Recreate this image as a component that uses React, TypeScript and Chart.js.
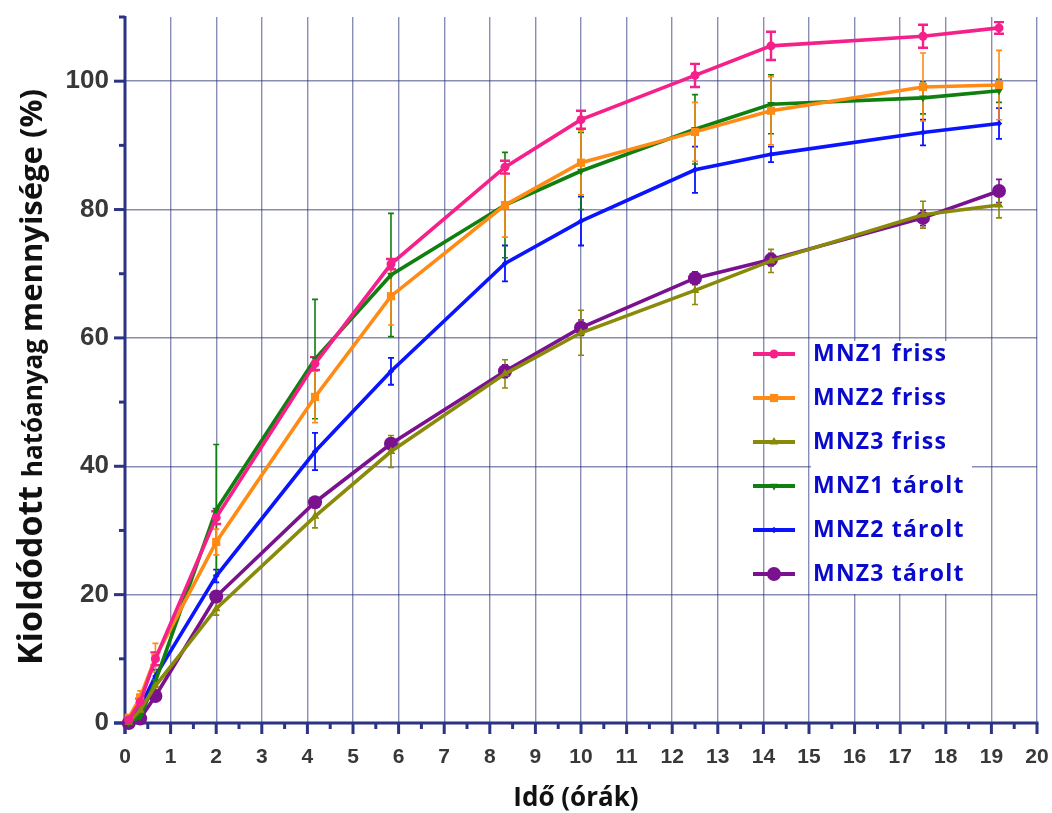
import React, { useEffect, useRef } from "react";
import { Chart, registerables } from "chart.js";
Chart.register(...registerables);

// ---- data ----
const times = [0.083, 0.333, 0.667, 2, 4.167, 5.833, 8.333, 10, 12.5, 14.167, 17.5, 19.167];

const seriesNames = ["MNZ1 friss", "MNZ2 friss", "MNZ3 friss", "MNZ1 tárolt", "MNZ2 tárolt", "MNZ3 tárolt"];

const mnz1Friss = [0.5, 3.3, 10.0, 32.0, 56.0, 71.5, 86.6, 94.0, 100.9, 105.5, 107.0, 108.3];
const mnz2Friss = [0.8, 4.0, 10.2, 28.2, 50.8, 66.5, 80.7, 87.3, 92.1, 95.4, 99.1, 99.4];
const mnz3Friss = [0.1, 2.0, 5.8, 17.8, 32.2, 42.3, 54.4, 60.8, 67.4, 72.0, 79.2, 80.7];
const mnz1Tarolt = [0.0, 1.0, 6.5, 33.2, 56.7, 69.8, 80.7, 86.0, 92.5, 96.4, 97.4, 98.5];
const mnz2Tarolt = [0.3, 2.5, 7.3, 22.9, 42.3, 54.8, 71.6, 78.2, 86.2, 88.6, 92.0, 93.4];
const mnz3Tarolt = [0.0, 0.7, 4.2, 19.7, 34.4, 43.5, 54.8, 61.6, 69.3, 72.2, 78.7, 82.9];

const errMnz1Friss = [0.3, 0.5, 1.0, 1.0, 1.0, 0.8, 1.0, 1.4, 1.8, 2.2, 1.8, 0.9];
const errMnz2Friss = [0.5, 1.0, 2.2, 2.0, 4.0, 4.5, 5.0, 5.0, 4.6, 5.3, 5.3, 5.4];
const errMnz3Friss = [0.2, 0.5, 0.8, 1.0, 1.8, 2.5, 2.2, 3.5, 2.2, 1.8, 2.1, 2.0];
const errMnz1Tarolt = [0.3, 1.0, 1.5, 10.2, 9.3, 9.6, 8.2, 6.0, 5.4, 4.6, 2.5, 1.8];
const errMnz2Tarolt = [0.3, 0.5, 1.0, 1.0, 2.9, 2.1, 2.8, 3.8, 3.6, 1.2, 2.0, 2.4];
const errMnz3Tarolt = [0.2, 0.3, 0.5, 0.8, 0.8, 0.8, 1.0, 1.2, 1.0, 1.0, 1.2, 1.8];

const xTitle = "Idő (órák)";
const yTitleParts = ["Kioldódott ", "hatóanyag ", "mennyisége (%)"];

// ---- styles ----
const W = 1052;
const H = 813;
const colors = ["#f5208a", "#ff8a14", "#8a8a0a", "#0f7f0f", "#0a14ff", "#7a118f"];
const pointStyles = ["circle", "rect", "triangle", "triangle", "rectRot", "circle"];
const pointRadii = [4.5, 5.8, 5, 4.5, 3.2, 7];
const pointRotations = [0, 0, 0, 180, 0, 0];
const errWidths = [2.4, 1.6, 1.6, 1.6, 1.8, 1.6];
const errCaps = [5, 3, 3, 3, 3, 3];
const AXIS = "#2b3384";
const GRID = "rgba(40,46,118,0.55)";

const values = [mnz1Friss, mnz2Friss, mnz3Friss, mnz1Tarolt, mnz2Tarolt, mnz3Tarolt];
const errors = [errMnz1Friss, errMnz2Friss, errMnz3Friss, errMnz1Tarolt, errMnz2Tarolt, errMnz3Tarolt];

function drawMarker(ctx: CanvasRenderingContext2D, style: string, rot: number, x: number, y: number, r: number) {
  ctx.beginPath();
  if (style === "circle") {
    ctx.arc(x, y, r, 0, Math.PI * 2);
  } else if (style === "rect") {
    const s = r * Math.SQRT1_2;
    ctx.rect(x - s, y - s, 2 * s, 2 * s);
  } else if (style === "rectRot") {
    ctx.moveTo(x, y - r);
    ctx.lineTo(x + r, y);
    ctx.lineTo(x, y + r);
    ctx.lineTo(x - r, y);
    ctx.closePath();
  } else if (style === "triangle") {
    const d = rot === 180 ? -1 : 1;
    ctx.moveTo(x, y - d * r);
    ctx.lineTo(x + r * 0.87, y + d * r * 0.5);
    ctx.lineTo(x - r * 0.87, y + d * r * 0.5);
    ctx.closePath();
  }
  ctx.fill();
}

export default function App() {
  const ref = useRef<HTMLCanvasElement>(null);

  useEffect(() => {
    const canvas = ref.current!;
    const ctx = canvas.getContext("2d")!;

    const datasets = seriesNames.map((name, i) => ({
      label: name,
      data: times.map((t, j) => ({ x: t, y: values[i][j] })),
      borderColor: colors[i],
      backgroundColor: colors[i],
      borderWidth: 3.6,
      pointStyle: pointStyles[i] as any,
      pointRadius: pointRadii[i],
      pointRotation: pointRotations[i],
      pointBorderWidth: 0,
      tension: 0,
      clip: false as any,
    }));

    const errorBarPlugin = {
      id: "errorBars",
      beforeDatasetsDraw(chart: any) {
        const c = chart.ctx;
        const xs = chart.scales.x;
        const ys = chart.scales.y;
        c.save();
        for (let i = values.length - 1; i >= 0; i--) {
          c.strokeStyle = colors[i];
          c.lineWidth = errWidths[i];
          for (let j = 0; j < times.length; j++) {
            const e = errors[i][j];
            if (!e) continue;
            const px = xs.getPixelForValue(times[j]);
            const top = ys.getPixelForValue(values[i][j] + e);
            const bot = ys.getPixelForValue(values[i][j] - e);
            const cw = errCaps[i];
            c.beginPath();
            c.moveTo(px, top);
            c.lineTo(px, bot);
            c.moveTo(px - cw, top);
            c.lineTo(px + cw, top);
            c.moveTo(px - cw, bot);
            c.lineTo(px + cw, bot);
            c.stroke();
          }
        }
        c.restore();
      },
    };

    const axesPlugin = {
      id: "axesTicks",
      beforeDatasetsDraw(chart: any) {
        const c = chart.ctx;
        const xs = chart.scales.x;
        const ys = chart.scales.y;
        const a = chart.chartArea;
        c.save();
        c.strokeStyle = AXIS;
        c.lineWidth = 3;
        c.lineCap = "butt";
        // axis lines
        c.beginPath();
        c.moveTo(a.left, a.top - 1);
        c.lineTo(a.left, a.bottom + 11);
        c.moveTo(a.left - 11, a.bottom);
        c.lineTo(a.right + 1.5, a.bottom);
        c.stroke();
        // y ticks
        for (let v = 0; v <= 110; v += 10) {
          const py = ys.getPixelForValue(v);
          const len = v % 20 === 0 ? 11 : 6;
          c.beginPath();
          c.moveTo(a.left - len, py);
          c.lineTo(a.left, py);
          c.stroke();
        }
        // x ticks
        for (let v = 0; v <= 20; v += 0.5) {
          const px = xs.getPixelForValue(v);
          const len = Number.isInteger(v) ? 11 : 6;
          c.beginPath();
          c.moveTo(px, a.bottom);
          c.lineTo(px, a.bottom + len);
          c.stroke();
        }
        c.restore();
      },
    };

    const titlesLegendPlugin = {
      id: "titlesLegend",
      afterDraw(chart: any) {
        const c = chart.ctx;
        const a = chart.chartArea;
        c.save();
        // x title
        c.fillStyle = "#111";
        c.font = "bold 26px 'Open Sans'";
        c.textAlign = "center";
        c.textBaseline = "alphabetic";
        c.fillText(xTitle, (a.left + a.right) / 2 - 5, 806);
        // y title with mixed sizes
        const sizes = [34, 26, 31];
        c.translate(42, 665);
        c.rotate(-Math.PI / 2);
        c.textAlign = "left";
        let off = 0;
        yTitleParts.forEach((p, k) => {
          c.font = `bold ${sizes[k]}px 'Open Sans'`;
          c.fillText(p, off, 0);
          off += c.measureText(p).width;
        });
        c.restore();

        // legend
        c.save();
        const boxL = 811, boxR = 972, boxT = 341, boxB = 594;
        c.fillStyle = "#ffffff";
        c.fillRect(boxL, boxT, boxR - boxL, boxB - boxT);
        const rowY0 = 354;
        const rowStep = 44;
        seriesNames.forEach((name, i) => {
          const cy = rowY0 + i * rowStep;
          c.strokeStyle = colors[i];
          c.lineWidth = 4;
          c.beginPath();
          c.moveTo(753, cy);
          c.lineTo(795, cy);
          c.stroke();
          c.fillStyle = colors[i];
          drawMarker(c, pointStyles[i], pointRotations[i], 774, cy, i === 5 ? 7 : pointRadii[i]);
          c.fillStyle = "#0a0acc";
          c.font = "bold 23px 'Open Sans'";
          (c as any).letterSpacing = "1.2px";
          c.textAlign = "left";
          c.textBaseline = "middle";
          c.fillText(name, 813, cy);
        });
        c.restore();
      },
    };

    const chart = new Chart(ctx, {
      type: "line",
      data: { datasets },
      options: {
        responsive: false,
        animation: false,
        layout: { autoPadding: false, padding: { left: 0, right: 15, top: 17, bottom: 0 } },
        plugins: {
          legend: { display: false },
          tooltip: { enabled: false },
        },
        scales: {
          x: {
            type: "linear",
            min: 0,
            max: 20,
            afterFit: (s: any) => {
              s.height = 90;
              s.paddingLeft = 0;
              s.paddingRight = 0;
              s.paddingTop = 0;
              s.paddingBottom = 0;
            },
            ticks: {
              stepSize: 1,
              padding: 22,
              color: "#383838",
              font: { family: "'Liberation Sans', Arial", size: 21, weight: "bold" },
              maxRotation: 0,
              autoSkip: false,
            },
            grid: { color: GRID, lineWidth: 1.4, drawTicks: false },
            border: { display: false },
          },
          y: {
            type: "linear",
            min: 0,
            max: 110,
            afterFit: (s: any) => {
              s.width = 125;
              s.paddingLeft = 0;
              s.paddingRight = 0;
              s.paddingTop = 0;
              s.paddingBottom = 0;
            },
            ticks: {
              stepSize: 20,
              includeBounds: false,
              padding: 16,
              color: "#383838",
              font: { family: "'Liberation Sans', Arial", size: 26, weight: "bold" },
            },
            grid: { color: GRID, lineWidth: 1.4, drawTicks: false },
            border: { display: false },
          },
        },
      },
      plugins: [axesPlugin, errorBarPlugin, titlesLegendPlugin],
    } as any);

    return () => chart.destroy();
  }, []);

  return (
    <div style={{ position: "absolute", left: 0, top: 0, width: W, height: H, background: "#ffffff" }}>
      <canvas ref={ref} width={W} height={H} style={{ width: W, height: H, display: "block" }} />
    </div>
  );
}
